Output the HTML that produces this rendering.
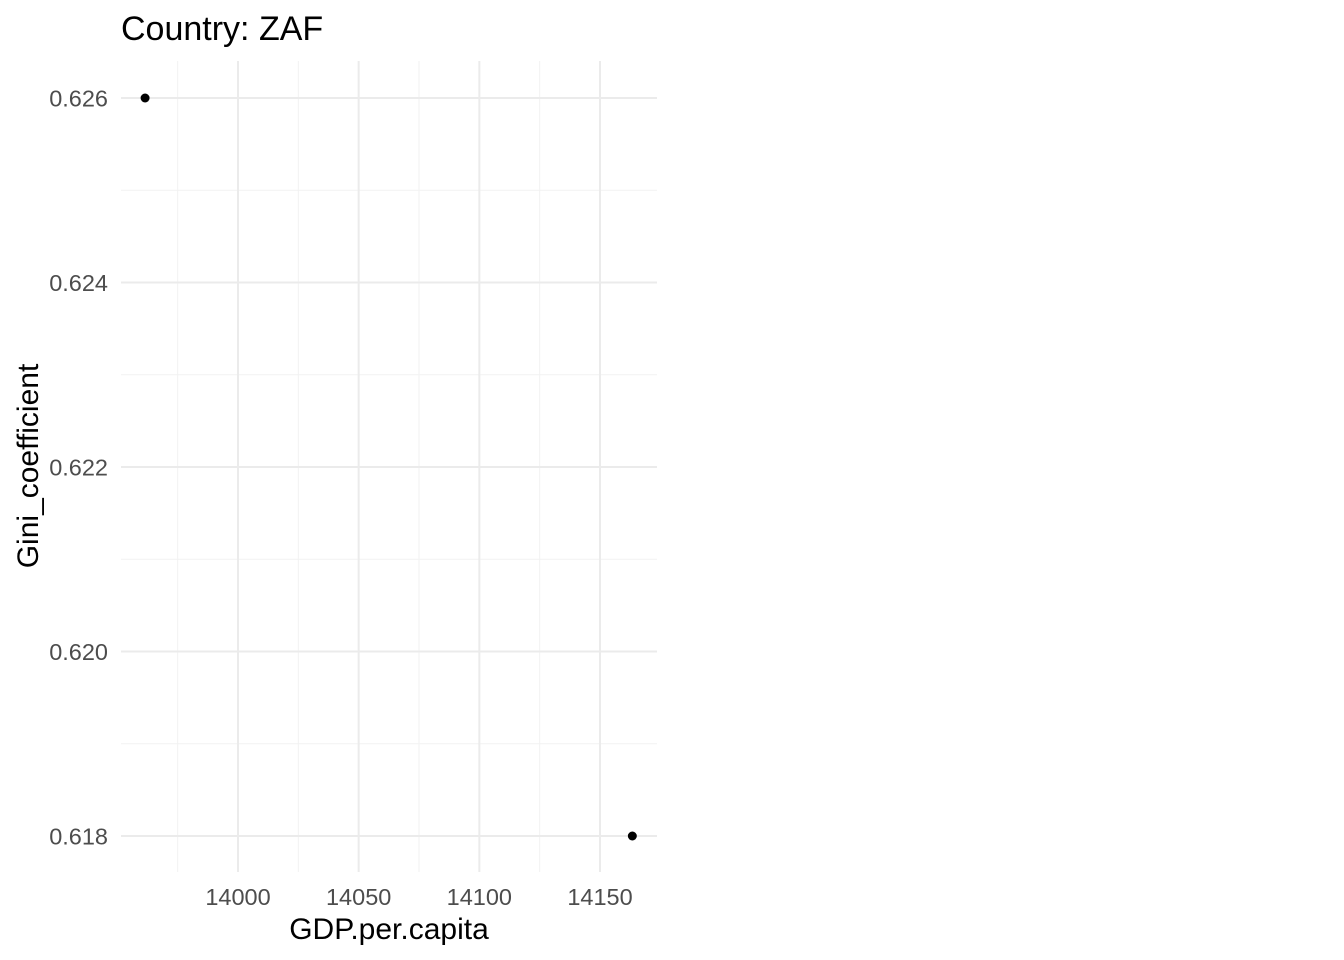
<!DOCTYPE html>
<html><head><meta charset="utf-8"><style>
body{margin:0;background:#fff;}
svg{display:block;font-family:"Liberation Sans",Arial,sans-serif;}
</style></head><body>
<svg id="chart" width="1344" height="960">
<text x="121" y="40" font-size="34" fill="#000">Country: ZAF</text>
<g id="grid"></g><g id="ticks"></g><g id="pts"></g>
<text x="389" y="939" font-size="30" text-anchor="middle" fill="#000">GDP.per.capita</text>
<text transform="translate(38,466) rotate(-90)" font-size="30" text-anchor="middle" fill="#000">Gini_coefficient</text>
</svg>
<script>
const gdp = [13961.5, 14163.4];
const gini = [0.626, 0.618];
const xTicks = [14000, 14050, 14100, 14150];
const yTicks = [0.618, 0.620, 0.622, 0.624, 0.626];
const NS="http://www.w3.org/2000/svg";
const L=121,R=657,T=61,B=872;
function sx(v){return 238+(v-14000)*(362/150);}
function sy(v){return 98+(0.626-v)*92250;}
function mk(tag,attrs,parent){const e=document.createElementNS(NS,tag);for(const k in attrs)e.setAttribute(k,attrs[k]);document.getElementById(parent).appendChild(e);return e;}
const xs=xTicks[1]-xTicks[0], ys=yTicks[1]-yTicks[0];
for(let i=-1;i<xTicks.length;i++){const v=xTicks[0]+(i+0.5)*xs;const x=sx(v);if(x<L||x>R)continue;
 const g=mk('line',{x1:x,x2:x,y1:T,y2:B,stroke:'#f2f2f2','stroke-width':1},'grid');
 
 }
for(let i=-1;i<yTicks.length;i++){const v=yTicks[0]+(i+0.5)*ys;const y=sy(v);if(y<T||y>B)continue;
 const g=mk('line',{x1:L,x2:R,y1:y,y2:y,stroke:'#f2f2f2','stroke-width':1},'grid');
 
 }
xTicks.forEach(v=>{const x=sx(v);
 const g=mk('line',{x1:x,x2:x,y1:T,y2:B,stroke:'#ebebeb','stroke-width':2},'grid');
 
 
 const t=mk('text',{x:x,y:905,'font-size':23.5,'text-anchor':'middle',fill:'#4d4d4d'},'ticks');t.textContent=v;
 
 });
yTicks.forEach(v=>{const y=sy(v);
 const g=mk('line',{x1:L,x2:R,y1:y,y2:y,stroke:'#ebebeb','stroke-width':2},'grid');
 
 
 const t=mk('text',{x:108,y:y+8.5,'font-size':23.5,'text-anchor':'end',fill:'#4d4d4d'},'ticks');t.textContent=v.toFixed(3);
 
 });
gdp.forEach((v,i)=>{const c=mk('circle',{cx:sx(v),cy:sy(gini[i]),r:4.5,fill:'#000'},'pts');
 
 });
</script>
</body></html>
